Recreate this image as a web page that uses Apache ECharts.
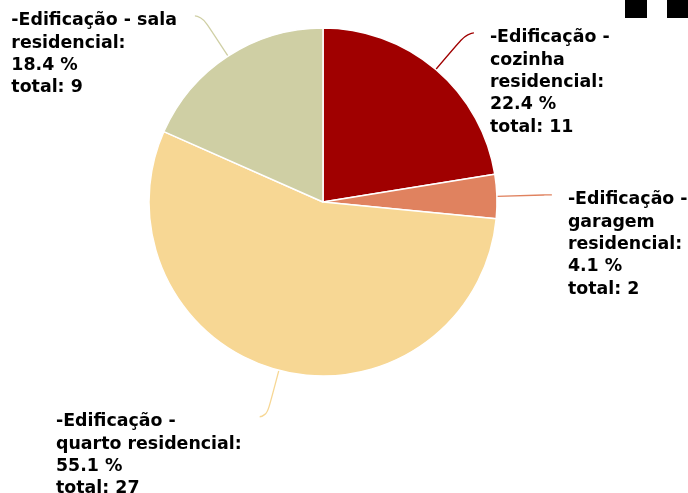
<!DOCTYPE html>
<html>
<head>
<meta charset="utf-8">
<script src="https://cdn.jsdelivr.net/npm/echarts@6/dist/echarts.min.js"></script>
<style>
html,body{margin:0;padding:0;background:#fff;}
#chart{width:688px;height:493px;}
</style>
</head>
<body>
<div id="chart"></div>
<script>
const categories = [
  '-Edificação - cozinha residencial',
  '-Edificação - garagem residencial',
  '-Edificação - quarto residencial',
  '-Edificação - sala residencial'
];
const totals = [11, 2, 27, 9];
const colors = ['#a00000', '#e0825f', '#f7d794', '#cfcfa4'];

const FONT_SIZE = 17.4;
const FONT = 'bold ' + FONT_SIZE + 'px "DejaVu Sans"';
const LINE_H = 22.3;
const WRAP_W = 190;

const ctx = document.createElement('canvas').getContext('2d');
ctx.font = FONT;
function wrap(text, maxW) {
  const words = text.split(' ');
  const lines = [];
  let cur = '';
  words.forEach(w => {
    const t = cur ? cur + ' ' + w : w;
    if (cur && ctx.measureText(t).width > maxW) { lines.push(cur); cur = w; }
    else cur = t;
  });
  if (cur) lines.push(cur);
  return lines.join('\n');
}

const chart = echarts.init(document.getElementById('chart'));
chart.setOption({
  animation: false,
  backgroundColor: '#ffffff',
  graphic: [
    { type: 'rect', left: 625, top: 0, shape: { width: 22, height: 18 }, style: { fill: '#000' } },
    { type: 'rect', left: 667, top: 0, shape: { width: 21, height: 18 }, style: { fill: '#000' } }
  ],
  series: [{
    type: 'pie',
    center: [323, 202],
    radius: 174,
    startAngle: 90,
    clockwise: true,
    percentPrecision: 1,
    avoidLabelOverlap: false,
    itemStyle: { borderColor: '#ffffff', borderWidth: 1.5 },
    label: {
      show: true,
      position: 'outside',
      color: '#000',
      fontFamily: 'DejaVu Sans',
      fontWeight: 'bold',
      fontSize: FONT_SIZE,
      lineHeight: LINE_H,
      formatter: p => wrap(p.name + ':', WRAP_W) + '\n' + p.percent.toFixed(1) + ' %\ntotal: ' + p.value
    },
    labelLine: { show: true, length: 48, length2: 7, smooth: 0.7, lineStyle: { width: 1.3 } },
    labelLayout: function (params) {
      const pts = params.labelLinePoints;
      if (!pts) return {};
      const end = pts[pts.length - 1];
      const start = pts[0];
      const left = end[0] < start[0];
      const w = params.labelRect.width;
      return {
        x: left ? end[0] - 18 - w : end[0] + 16,
        y: end[1] + 5 - LINE_H / 2,
        align: 'left',
        verticalAlign: 'top',
        labelLinePoints: pts
      };
    },
    data: categories.map((c, i) => ({
      name: c,
      value: totals[i],
      itemStyle: { color: colors[i] },
      labelLine: { lineStyle: { color: colors[i] } }
    }))
  }]
});
</script>
</body>
</html>
